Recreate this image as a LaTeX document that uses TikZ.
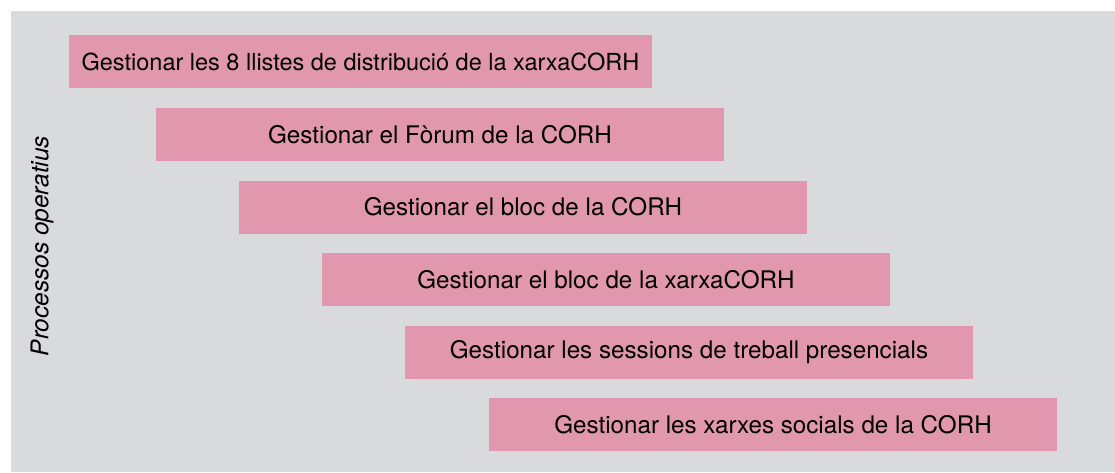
\documentclass[tikz,border=0pt]{standalone}
\usepackage{fontspec}
\setmainfont{TeX Gyre Heros}
\usetikzlibrary{positioning}
\definecolor{panelGray}{HTML}{D9DADC}
\definecolor{boxPink}{HTML}{E198AE}
\tikzset{
    every node/.style={font=\fontsize{12.1}{14}\selectfont}, % same text size everywhere
    procBox/.style={fill=boxPink, minimum height=26.5pt, minimum width=284pt, inner sep=0pt, outer sep=0pt}, % one process bar
    node distance=9.75pt and 41.5pt,
}
\begin{document}
\begin{tikzpicture}[x=0.5pt, y=-0.5pt]
    \useasboundingbox (0,0) rectangle (1115,472);
    \fill[panelGray] (11,11) rectangle (1115,472);
    \node[procBox, anchor=north west, minimum width=291.5pt, font=\fontsize{11.75}{14}\selectfont] (llistes) at (69,35) {Gestionar les 8 llistes de distribució de la xarxaCORH};
    \node[procBox, below right=10pt and 43.5pt of llistes.south west] (forum) {Gestionar el Fòrum de la CORH};
    \node[procBox, below right=of forum.south west] (blocCorh) {Gestionar el bloc de la CORH};
    \node[procBox, below right=of blocCorh.south west] (blocXarxa) {Gestionar el bloc de la xarxaCORH};
    \node[procBox, below right=of blocXarxa.south west] (sessions) {Gestionar les sessions de treball presencials};
    \node[procBox, below right=9.75pt and 42pt of sessions.south west] (socials) {Gestionar les xarxes socials de la CORH};
    \node[rotate=90, font=\fontsize{12.2}{14}\selectfont\itshape] (processos) at (42,246) {Processos operatius};
\end{tikzpicture}
\end{document}
